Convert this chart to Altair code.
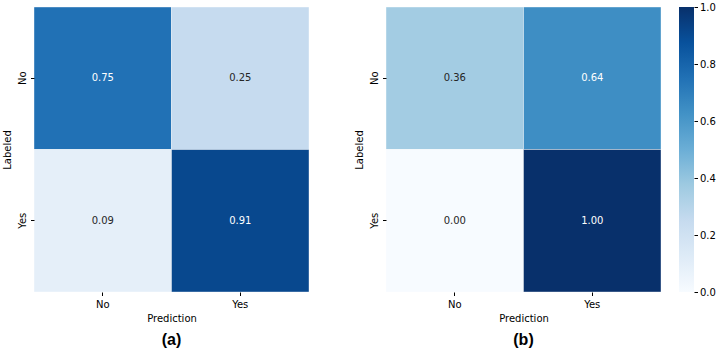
import altair as alt
import pandas as pd

labeled = ["No", "No", "Yes", "Yes"]
prediction = ["No", "Yes", "No", "Yes"]
values_a = [0.75, 0.25, 0.09, 0.91]
values_b = [0.36, 0.64, 0.00, 1.00]
cats = ["No", "Yes"]

blues_stops = [0.0, 0.125, 0.25, 0.375, 0.5, 0.625, 0.75, 0.875, 1.0]
blues_colors = ["#f7fbff", "#deebf7", "#c6dbef", "#9ecae1", "#6baed6",
                "#4292c6", "#2171b5", "#08519c", "#08306b"]
cbar_ticks = [0.0, 0.2, 0.4, 0.6, 0.8, 1.0]

FONT = "DejaVu Sans"
W, H = 275, 285

color_scale = alt.Scale(domain=blues_stops, range=blues_colors, type="linear",
                        interpolate="rgb")


def panel(values, caption):
    df = pd.DataFrame({"Labeled": labeled, "Prediction": prediction, "v": values})
    df["txt"] = [f"{v:.2f}" for v in values]
    base = alt.Chart(df)
    x = alt.X("Prediction:N", sort=cats,
              scale=alt.Scale(paddingInner=0, paddingOuter=0),
              axis=alt.Axis(title="Prediction", labelAngle=0, domain=False,
                            ticks=True, tickSize=3.5, tickColor="#000",
                            labelFont=FONT, labelFontSize=10, labelColor="#000",
                            labelPadding=4, titleFont=FONT, titleFontSize=10,
                            titleFontWeight="normal", titleColor="#000",
                            titlePadding=4))
    y = alt.Y("Labeled:N", sort=cats,
              scale=alt.Scale(paddingInner=0, paddingOuter=0),
              axis=alt.Axis(title="Labeled", labelAngle=-90, domain=False,
                            ticks=True, tickSize=3.5, tickColor="#000",
                            labelFont=FONT, labelFontSize=10, labelColor="#000",
                            labelPadding=3, labelAlign="center",
                            labelBaseline="bottom",
                            titleFont=FONT, titleFontSize=10,
                            titleFontWeight="normal", titleColor="#000",
                            titlePadding=5))
    rect = base.mark_rect(stroke="white", strokeWidth=0.4).encode(
        x=x, y=y,
        color=alt.Color("v:Q", scale=color_scale, legend=None),
    )
    text = base.mark_text(font=FONT, fontSize=10).encode(
        x=alt.X("Prediction:N", sort=cats),
        y=alt.Y("Labeled:N", sort=cats),
        text="txt:N",
        color=alt.condition("datum.v > 0.5", alt.value("#ffffff"), alt.value("#262626")),
    )
    return alt.layer(rect, text).properties(
        width=W, height=H,
        title=alt.TitleParams(caption, orient="bottom", anchor="middle", frame="group",
                              font="Liberation Sans", fontSize=16, fontWeight="bold",
                              color="#000", offset=8),
    )


cb_df = pd.DataFrame({"lo": [0.0], "hi": [1.0]})
cbar = alt.Chart(cb_df).mark_rect(
    color=alt.Gradient(
        gradient="linear",
        stops=[alt.GradientStop(offset=o, color=c) for o, c in zip(blues_stops, blues_colors)],
        x1=0, x2=0, y1=1, y2=0,
    )
).encode(
    x=alt.value(0), x2=alt.value(15),
    y=alt.Y("lo:Q", scale=alt.Scale(domain=[0, 1], nice=False, zero=False),
            axis=alt.Axis(orient="right", values=cbar_ticks, format=".1f", title=None,
                          domain=False, grid=False, tickSize=3.5, tickColor="#000",
                          labelFont=FONT, labelFontSize=10, labelColor="#000",
                          labelPadding=2)),
    y2="hi:Q",
).properties(width=15, height=H)

chart = alt.hconcat(
    panel(values_a, "(a)"),
    alt.hconcat(panel(values_b, "(b)"), cbar, spacing=17),
    spacing=44,
).properties(
    padding={"left": 2, "top": 2, "right": 0, "bottom": 0},
    background="white",
).configure_view(stroke=None).configure_concat(spacing=44)

chart.save("out.html", embed_options={"renderer": "svg", "actions": False})
